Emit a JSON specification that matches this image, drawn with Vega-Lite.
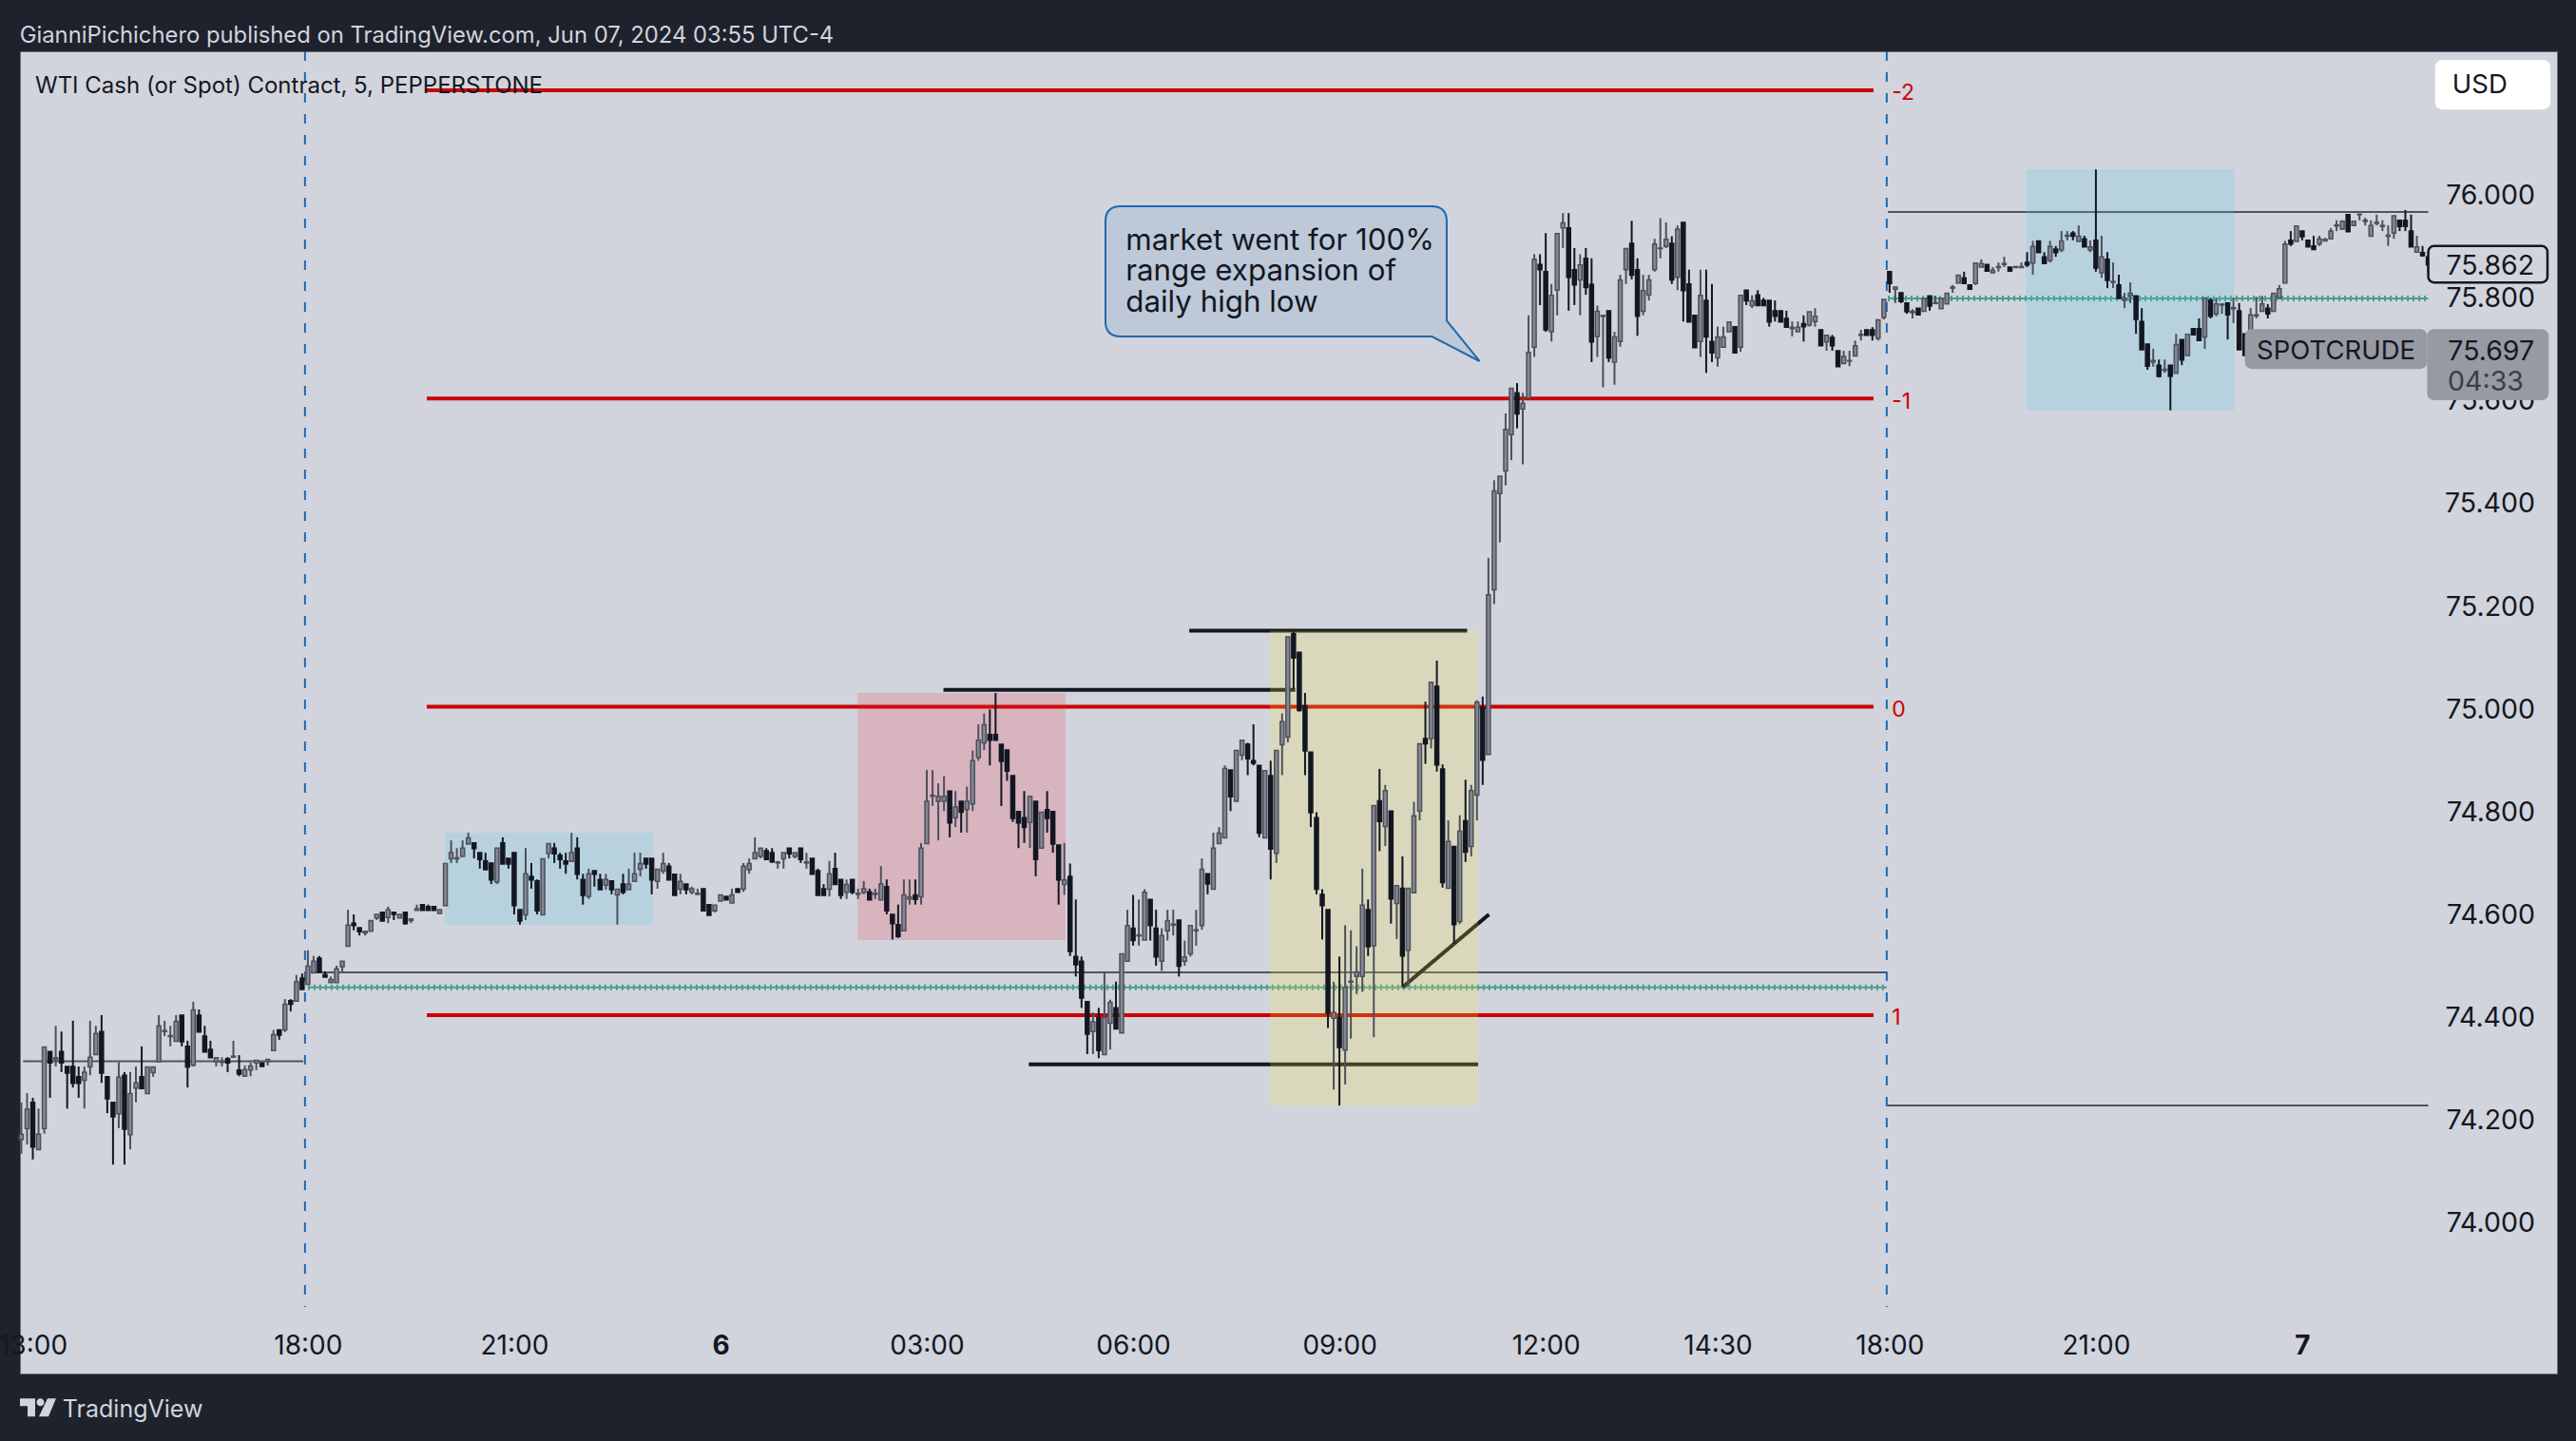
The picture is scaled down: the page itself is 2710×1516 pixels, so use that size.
{
"$schema":"https://vega.github.io/schema/vega-lite/v6.json",
"description":"WTI spot crude 5 minute candles with range levels and session zones",
"autosize":"none",
"width":2669,
"height":1391,
"padding":{"left":21,"top":54,"right":20,"bottom":71},
"background":"#1e222d",
"view":{"fill":"#d1d4dc","stroke":"#6a6d78","strokeWidth":1},
"datasets":{
"lines":[
{"b":49.5,"b2":49.5,"p":76.2759,"p2":73.832,"kind":"session"},
{"b":325.5,"b2":325.5,"p":76.2759,"p2":73.832,"kind":"session"},
{"b":0.3,"b2":49.2,"p":74.31,"p2":74.31,"kind":"grey"},
{"b":50.5,"b2":325.5,"p":74.483,"p2":74.483,"kind":"grey"},
{"b":325.7,"b2":420,"p":75.963,"p2":75.963,"kind":"grey"},
{"b":325.7,"b2":420,"p":74.224,"p2":74.224,"kind":"grey"},
{"b":50,"b2":325.5,"p":74.454,"p2":74.454,"kind":"green"},
{"b":50,"b2":325.5,"p":74.454,"p2":74.454,"kind":"greentick"},
{"b":325.7,"b2":420,"p":75.795,"p2":75.795,"kind":"green"},
{"b":325.7,"b2":420,"p":75.795,"p2":75.795,"kind":"greentick"},
{"b":70.75,"b2":323.2,"p":76.2,"p2":76.2,"kind":"level"},
{"b":70.75,"b2":323.2,"p":75.6,"p2":75.6,"kind":"level"},
{"b":70.75,"b2":323.2,"p":75.0,"p2":75.0,"kind":"level"},
{"b":70.75,"b2":323.2,"p":74.4,"p2":74.4,"kind":"level"},
{"b":160.9,"b2":222.3,"p":75.033,"p2":75.033,"kind":"black"},
{"b":203.8,"b2":252.3,"p":75.148,"p2":75.148,"kind":"black"},
{"b":175.8,"b2":254.2,"p":74.304,"p2":74.304,"kind":"black"},
{"b":241,"b2":256.1,"p":74.454,"p2":74.596,"kind":"black"}
],
"zones":[
{"b":73.9,"b2":110.2,"p":74.755,"p2":74.5756,"kind":"blue"},
{"b":145.9,"b2":182.2,"p":75.027,"p2":74.546,"kind":"red"},
{"b":217.9,"b2":254.2,"p":75.148,"p2":74.224,"kind":"yellow"},
{"b":349.8,"b2":386.1,"p":76.046,"p2":75.577,"kind":"blue"}
],
"boxes":[
{"b":421.4,"b2":441.1,"p":76.257,"p2":76.165,"kind":"usd"},
{"b":420,"b2":440.8,"p":75.897,"p2":75.826,"kind":"last"},
{"b":388.2,"b2":419.6,"p":75.733,"p2":75.66,"kind":"symbol"},
{"b":420,"b2":440.8,"p":75.733,"p2":75.599,"kind":"symbol"}
],
"labelsLeft":[
{"b":-0.29,"p":76.305,"label":"GianniPichichero published on TradingView.com, Jun 07, 2024 03:55 UTC-4","kind":"header"},
{"b":2.41,"p":76.207,"label":"WTI Cash (or Spot) Contract, 5, PEPPERSTONE","kind":"legend"},
{"b":7.2,"p":73.632,"label":"TradingView","kind":"footer"},
{"b":192.7,"p":75.905,"label":"market went for 100%","kind":"note"},
{"b":192.7,"p":75.847,"label":"range expansion of","kind":"note"},
{"b":192.7,"p":75.786,"label":"daily high low","kind":"note"},
{"b":326.4,"p":76.194,"label":"-2","kind":"levelText"},
{"b":326.4,"p":75.594,"label":"-1","kind":"levelText"},
{"b":326.4,"p":74.994,"label":"0","kind":"levelText"},
{"b":326.4,"p":74.394,"label":"1","kind":"levelText"},
{"b":423.4,"p":75.632,"label":"04:33","kind":"timer"}
],
"labelsRight":[
{"b":438.5,"p":75.858,"label":"75.862","kind":"price"},
{"b":438.5,"p":75.692,"label":"75.697","kind":"price"}
],
"labelsCenter":[
{"b":429,"p":76.209,"label":"USD","kind":"price"},
{"b":403.9,"p":75.692,"label":"SPOTCRUDE","kind":"price"}
],
"candles":[
{"b":0,"o":74.158,"h":74.230,"l":74.130,"c":74.168},
{"b":1,"o":74.179,"h":74.248,"l":74.148,"c":74.217},
{"b":2,"o":74.230,"h":74.239,"l":74.119,"c":74.143},
{"b":3,"o":74.138,"h":74.218,"l":74.138,"c":74.168},
{"b":4,"o":74.179,"h":74.338,"l":74.169,"c":74.338},
{"b":5,"o":74.329,"h":74.329,"l":74.239,"c":74.307},
{"b":6,"o":74.314,"h":74.379,"l":74.300,"c":74.317},
{"b":7,"o":74.329,"h":74.368,"l":74.289,"c":74.307},
{"b":8,"o":74.300,"h":74.300,"l":74.218,"c":74.287},
{"b":9,"o":74.300,"h":74.389,"l":74.259,"c":74.267},
{"b":10,"o":74.280,"h":74.300,"l":74.239,"c":74.267},
{"b":11,"o":74.273,"h":74.300,"l":74.218,"c":74.289},
{"b":12,"o":74.299,"h":74.389,"l":74.283,"c":74.318},
{"b":13,"o":74.323,"h":74.379,"l":74.323,"c":74.364},
{"b":14,"o":74.368,"h":74.400,"l":74.268,"c":74.287},
{"b":15,"o":74.280,"h":74.280,"l":74.209,"c":74.237},
{"b":16,"o":74.230,"h":74.230,"l":74.109,"c":74.202},
{"b":17,"o":74.208,"h":74.308,"l":74.180,"c":74.279},
{"b":18,"o":74.283,"h":74.289,"l":74.109,"c":74.178},
{"b":19,"o":74.167,"h":74.289,"l":74.139,"c":74.247},
{"b":20,"o":74.258,"h":74.300,"l":74.230,"c":74.268},
{"b":21,"o":74.280,"h":74.339,"l":74.257,"c":74.257},
{"b":22,"o":74.247,"h":74.299,"l":74.247,"c":74.299},
{"b":23,"o":74.288,"h":74.299,"l":74.280,"c":74.299},
{"b":24,"o":74.309,"h":74.400,"l":74.309,"c":74.379},
{"b":25,"o":74.368,"h":74.389,"l":74.359,"c":74.370},
{"b":26,"o":74.358,"h":74.379,"l":74.339,"c":74.360},
{"b":27,"o":74.349,"h":74.400,"l":74.349,"c":74.388},
{"b":28,"o":74.400,"h":74.400,"l":74.339,"c":74.348},
{"b":29,"o":74.339,"h":74.350,"l":74.259,"c":74.299},
{"b":30,"o":74.302,"h":74.426,"l":74.300,"c":74.410},
{"b":31,"o":74.400,"h":74.411,"l":74.367,"c":74.367},
{"b":32,"o":74.359,"h":74.379,"l":74.328,"c":74.328},
{"b":33,"o":74.333,"h":74.350,"l":74.317,"c":74.317},
{"b":34,"o":74.309,"h":74.317,"l":74.300,"c":74.317},
{"b":35,"o":74.308,"h":74.318,"l":74.300,"c":74.310},
{"b":36,"o":74.315,"h":74.318,"l":74.289,"c":74.307},
{"b":37,"o":74.318,"h":74.350,"l":74.317,"c":74.320},
{"b":38,"o":74.293,"h":74.322,"l":74.281,"c":74.285},
{"b":39,"o":74.281,"h":74.302,"l":74.281,"c":74.294},
{"b":40,"o":74.293,"h":74.308,"l":74.281,"c":74.301},
{"b":41,"o":74.307,"h":74.312,"l":74.293,"c":74.312},
{"b":42,"o":74.307,"h":74.307,"l":74.300,"c":74.300},
{"b":43,"o":74.310,"h":74.314,"l":74.302,"c":74.314},
{"b":44,"o":74.331,"h":74.371,"l":74.331,"c":74.362},
{"b":45,"o":74.371,"h":74.371,"l":74.352,"c":74.361},
{"b":46,"o":74.371,"h":74.431,"l":74.367,"c":74.421},
{"b":47,"o":74.428,"h":74.431,"l":74.407,"c":74.421},
{"b":48,"o":74.427,"h":74.478,"l":74.427,"c":74.465},
{"b":49,"o":74.472,"h":74.481,"l":74.450,"c":74.450},
{"b":50,"o":74.460,"h":74.526,"l":74.460,"c":74.495},
{"b":51,"o":74.482,"h":74.515,"l":74.482,"c":74.505},
{"b":52,"o":74.511,"h":74.515,"l":74.483,"c":74.483},
{"b":53,"o":74.479,"h":74.485,"l":74.474,"c":74.474},
{"b":54,"o":74.463,"h":74.475,"l":74.463,"c":74.469},
{"b":55,"o":74.463,"h":74.496,"l":74.463,"c":74.490},
{"b":56,"o":74.494,"h":74.505,"l":74.485,"c":74.505},
{"b":57,"o":74.534,"h":74.605,"l":74.534,"c":74.575},
{"b":58,"o":74.579,"h":74.596,"l":74.565,"c":74.574},
{"b":59,"o":74.570,"h":74.570,"l":74.555,"c":74.562},
{"b":60,"o":74.560,"h":74.563,"l":74.555,"c":74.563},
{"b":61,"o":74.563,"h":74.584,"l":74.563,"c":74.584},
{"b":62,"o":74.589,"h":74.596,"l":74.585,"c":74.596},
{"b":63,"o":74.600,"h":74.600,"l":74.583,"c":74.583},
{"b":64,"o":74.590,"h":74.611,"l":74.579,"c":74.605},
{"b":65,"o":74.600,"h":74.600,"l":74.585,"c":74.596},
{"b":66,"o":74.589,"h":74.596,"l":74.589,"c":74.596},
{"b":67,"o":74.600,"h":74.600,"l":74.576,"c":74.578},
{"b":68,"o":74.584,"h":74.587,"l":74.579,"c":74.587},
{"b":69,"o":74.604,"h":74.615,"l":74.604,"c":74.607},
{"b":70,"o":74.615,"h":74.615,"l":74.604,"c":74.604},
{"b":71,"o":74.611,"h":74.615,"l":74.604,"c":74.604},
{"b":72,"o":74.611,"h":74.611,"l":74.604,"c":74.604},
{"b":73,"o":74.598,"h":74.605,"l":74.598,"c":74.605},
{"b":74,"o":74.613,"h":74.695,"l":74.613,"c":74.695},
{"b":75,"o":74.704,"h":74.740,"l":74.696,"c":74.716},
{"b":76,"o":74.704,"h":74.725,"l":74.696,"c":74.706},
{"b":77,"o":74.709,"h":74.740,"l":74.709,"c":74.725},
{"b":78,"o":74.733,"h":74.755,"l":74.733,"c":74.745},
{"b":79,"o":74.735,"h":74.735,"l":74.705,"c":74.724},
{"b":80,"o":74.716,"h":74.716,"l":74.685,"c":74.703},
{"b":81,"o":74.700,"h":74.716,"l":74.683,"c":74.683},
{"b":82,"o":74.696,"h":74.696,"l":74.655,"c":74.663},
{"b":83,"o":74.659,"h":74.725,"l":74.655,"c":74.725},
{"b":84,"o":74.735,"h":74.746,"l":74.694,"c":74.694},
{"b":85,"o":74.705,"h":74.705,"l":74.685,"c":74.694},
{"b":86,"o":74.716,"h":74.716,"l":74.596,"c":74.613},
{"b":87,"o":74.605,"h":74.605,"l":74.576,"c":74.583},
{"b":88,"o":74.595,"h":74.725,"l":74.585,"c":74.675},
{"b":89,"o":74.670,"h":74.696,"l":74.646,"c":74.663},
{"b":90,"o":74.661,"h":74.664,"l":74.596,"c":74.603},
{"b":91,"o":74.595,"h":74.704,"l":74.595,"c":74.704},
{"b":92,"o":74.715,"h":74.734,"l":74.705,"c":74.734},
{"b":93,"o":74.725,"h":74.735,"l":74.696,"c":74.714},
{"b":94,"o":74.711,"h":74.716,"l":74.685,"c":74.703},
{"b":95,"o":74.700,"h":74.716,"l":74.675,"c":74.694},
{"b":96,"o":74.699,"h":74.755,"l":74.699,"c":74.716},
{"b":97,"o":74.725,"h":74.746,"l":74.664,"c":74.674},
{"b":98,"o":74.664,"h":74.675,"l":74.615,"c":74.633},
{"b":99,"o":74.631,"h":74.685,"l":74.626,"c":74.675},
{"b":100,"o":74.681,"h":74.681,"l":74.650,"c":74.674},
{"b":101,"o":74.664,"h":74.675,"l":74.644,"c":74.644},
{"b":102,"o":74.653,"h":74.675,"l":74.644,"c":74.664},
{"b":103,"o":74.661,"h":74.661,"l":74.635,"c":74.644},
{"b":104,"o":74.634,"h":74.645,"l":74.576,"c":74.645},
{"b":105,"o":74.655,"h":74.675,"l":74.635,"c":74.639},
{"b":106,"o":74.644,"h":74.685,"l":74.644,"c":74.655},
{"b":107,"o":74.660,"h":74.716,"l":74.660,"c":74.675},
{"b":108,"o":74.684,"h":74.716,"l":74.670,"c":74.695},
{"b":109,"o":74.705,"h":74.705,"l":74.685,"c":74.694},
{"b":110,"o":74.705,"h":74.705,"l":74.635,"c":74.663},
{"b":111,"o":74.660,"h":74.684,"l":74.646,"c":74.684},
{"b":112,"o":74.680,"h":74.716,"l":74.675,"c":74.695},
{"b":113,"o":74.690,"h":74.696,"l":74.663,"c":74.663},
{"b":114,"o":74.674,"h":74.674,"l":74.633,"c":74.633},
{"b":115,"o":74.645,"h":74.675,"l":74.635,"c":74.660},
{"b":116,"o":74.655,"h":74.655,"l":74.635,"c":74.644},
{"b":117,"o":74.639,"h":74.650,"l":74.635,"c":74.646},
{"b":118,"o":74.635,"h":74.646,"l":74.633,"c":74.637},
{"b":119,"o":74.646,"h":74.646,"l":74.603,"c":74.603},
{"b":120,"o":74.615,"h":74.615,"l":74.594,"c":74.594},
{"b":121,"o":74.603,"h":74.614,"l":74.600,"c":74.614},
{"b":122,"o":74.622,"h":74.634,"l":74.622,"c":74.634},
{"b":123,"o":74.631,"h":74.631,"l":74.624,"c":74.624},
{"b":124,"o":74.618,"h":74.646,"l":74.618,"c":74.634},
{"b":125,"o":74.646,"h":74.646,"l":74.639,"c":74.639},
{"b":126,"o":74.645,"h":74.696,"l":74.640,"c":74.690},
{"b":127,"o":74.683,"h":74.705,"l":74.675,"c":74.695},
{"b":128,"o":74.704,"h":74.746,"l":74.704,"c":74.716},
{"b":129,"o":74.709,"h":74.725,"l":74.705,"c":74.725},
{"b":130,"o":74.720,"h":74.725,"l":74.703,"c":74.703},
{"b":131,"o":74.716,"h":74.725,"l":74.696,"c":74.698},
{"b":132,"o":74.696,"h":74.700,"l":74.685,"c":74.698},
{"b":133,"o":74.704,"h":74.716,"l":74.685,"c":74.716},
{"b":134,"o":74.725,"h":74.725,"l":74.705,"c":74.714},
{"b":135,"o":74.709,"h":74.716,"l":74.705,"c":74.716},
{"b":136,"o":74.725,"h":74.725,"l":74.696,"c":74.703},
{"b":137,"o":74.696,"h":74.716,"l":74.685,"c":74.698},
{"b":138,"o":74.705,"h":74.705,"l":74.674,"c":74.674},
{"b":139,"o":74.681,"h":74.685,"l":74.633,"c":74.633},
{"b":140,"o":74.646,"h":74.655,"l":74.633,"c":74.633},
{"b":141,"o":74.645,"h":74.700,"l":74.631,"c":74.675},
{"b":142,"o":74.685,"h":74.716,"l":74.654,"c":74.654},
{"b":143,"o":74.664,"h":74.664,"l":74.626,"c":74.633},
{"b":144,"o":74.639,"h":74.664,"l":74.626,"c":74.654},
{"b":145,"o":74.664,"h":74.664,"l":74.635,"c":74.639},
{"b":146,"o":74.635,"h":74.646,"l":74.626,"c":74.637},
{"b":147,"o":74.639,"h":74.661,"l":74.635,"c":74.646},
{"b":148,"o":74.640,"h":74.646,"l":74.624,"c":74.624},
{"b":149,"o":74.635,"h":74.646,"l":74.626,"c":74.637},
{"b":150,"o":74.624,"h":74.690,"l":74.624,"c":74.655},
{"b":151,"o":74.650,"h":74.664,"l":74.596,"c":74.603},
{"b":152,"o":74.596,"h":74.596,"l":74.547,"c":74.578},
{"b":153,"o":74.576,"h":74.615,"l":74.550,"c":74.553},
{"b":154,"o":74.564,"h":74.664,"l":74.564,"c":74.634},
{"b":155,"o":74.626,"h":74.664,"l":74.615,"c":74.630},
{"b":156,"o":74.634,"h":74.664,"l":74.615,"c":74.625},
{"b":157,"o":74.630,"h":74.735,"l":74.615,"c":74.725},
{"b":158,"o":74.734,"h":74.877,"l":74.734,"c":74.816},
{"b":159,"o":74.826,"h":74.877,"l":74.807,"c":74.828},
{"b":160,"o":74.816,"h":74.851,"l":74.740,"c":74.826},
{"b":161,"o":74.816,"h":74.865,"l":74.797,"c":74.826},
{"b":162,"o":74.836,"h":74.836,"l":74.746,"c":74.774},
{"b":163,"o":74.784,"h":74.836,"l":74.766,"c":74.805},
{"b":164,"o":74.816,"h":74.816,"l":74.755,"c":74.795},
{"b":165,"o":74.800,"h":74.845,"l":74.755,"c":74.816},
{"b":166,"o":74.811,"h":74.915,"l":74.797,"c":74.895},
{"b":167,"o":74.901,"h":74.966,"l":74.895,"c":74.935},
{"b":168,"o":74.930,"h":74.987,"l":74.916,"c":74.965},
{"b":169,"o":74.946,"h":74.995,"l":74.886,"c":74.935},
{"b":170,"o":74.946,"h":75.027,"l":74.935,"c":74.935},
{"b":171,"o":74.927,"h":74.927,"l":74.807,"c":74.894},
{"b":172,"o":74.916,"h":74.916,"l":74.856,"c":74.875},
{"b":173,"o":74.866,"h":74.866,"l":74.776,"c":74.783},
{"b":174,"o":74.796,"h":74.796,"l":74.725,"c":74.774},
{"b":175,"o":74.784,"h":74.836,"l":74.735,"c":74.765},
{"b":176,"o":74.775,"h":74.826,"l":74.725,"c":74.826},
{"b":177,"o":74.816,"h":74.816,"l":74.670,"c":74.703},
{"b":178,"o":74.725,"h":74.795,"l":74.725,"c":74.795},
{"b":179,"o":74.800,"h":74.836,"l":74.755,"c":74.783},
{"b":180,"o":74.796,"h":74.796,"l":74.716,"c":74.733},
{"b":181,"o":74.731,"h":74.731,"l":74.615,"c":74.663},
{"b":182,"o":74.654,"h":74.735,"l":74.634,"c":74.663},
{"b":183,"o":74.670,"h":74.695,"l":74.515,"c":74.524},
{"b":184,"o":74.514,"h":74.625,"l":74.475,"c":74.498},
{"b":185,"o":74.505,"h":74.514,"l":74.414,"c":74.433},
{"b":186,"o":74.426,"h":74.426,"l":74.324,"c":74.363},
{"b":187,"o":74.368,"h":74.405,"l":74.324,"c":74.387},
{"b":188,"o":74.395,"h":74.414,"l":74.316,"c":74.331},
{"b":189,"o":74.323,"h":74.484,"l":74.323,"c":74.395},
{"b":190,"o":74.384,"h":74.430,"l":74.333,"c":74.425},
{"b":191,"o":74.414,"h":74.465,"l":74.373,"c":74.373},
{"b":192,"o":74.365,"h":74.519,"l":74.365,"c":74.519},
{"b":193,"o":74.505,"h":74.605,"l":74.505,"c":74.574},
{"b":194,"o":74.569,"h":74.634,"l":74.535,"c":74.545},
{"b":195,"o":74.554,"h":74.625,"l":74.535,"c":74.556},
{"b":196,"o":74.546,"h":74.645,"l":74.546,"c":74.639},
{"b":197,"o":74.625,"h":74.625,"l":74.545,"c":74.574},
{"b":198,"o":74.569,"h":74.605,"l":74.496,"c":74.513},
{"b":199,"o":74.505,"h":74.569,"l":74.486,"c":74.555},
{"b":200,"o":74.564,"h":74.605,"l":74.545,"c":74.584},
{"b":201,"o":74.575,"h":74.605,"l":74.555,"c":74.577},
{"b":202,"o":74.585,"h":74.585,"l":74.475,"c":74.495},
{"b":203,"o":74.505,"h":74.545,"l":74.496,"c":74.513},
{"b":204,"o":74.519,"h":74.574,"l":74.514,"c":74.574},
{"b":205,"o":74.564,"h":74.605,"l":74.535,"c":74.566},
{"b":206,"o":74.574,"h":74.705,"l":74.566,"c":74.684},
{"b":207,"o":74.675,"h":74.675,"l":74.635,"c":74.655},
{"b":208,"o":74.645,"h":74.755,"l":74.645,"c":74.725},
{"b":209,"o":74.734,"h":74.766,"l":74.734,"c":74.754},
{"b":210,"o":74.745,"h":74.886,"l":74.745,"c":74.880},
{"b":211,"o":74.877,"h":74.877,"l":74.797,"c":74.825},
{"b":212,"o":74.816,"h":74.915,"l":74.816,"c":74.915},
{"b":213,"o":74.906,"h":74.935,"l":74.896,"c":74.935},
{"b":214,"o":74.927,"h":74.930,"l":74.867,"c":74.899},
{"b":215,"o":74.895,"h":74.966,"l":74.886,"c":74.890},
{"b":216,"o":74.886,"h":74.886,"l":74.746,"c":74.754},
{"b":217,"o":74.745,"h":74.876,"l":74.745,"c":74.876},
{"b":218,"o":74.866,"h":74.895,"l":74.664,"c":74.723},
{"b":219,"o":74.715,"h":74.915,"l":74.696,"c":74.915},
{"b":220,"o":74.926,"h":74.987,"l":74.867,"c":74.971},
{"b":221,"o":74.941,"h":75.136,"l":74.931,"c":75.136},
{"b":222,"o":75.142,"h":75.147,"l":75.035,"c":75.095},
{"b":223,"o":75.106,"h":75.106,"l":74.991,"c":74.993},
{"b":224,"o":75.002,"h":75.027,"l":74.867,"c":74.914},
{"b":225,"o":74.912,"h":74.912,"l":74.766,"c":74.794},
{"b":226,"o":74.784,"h":74.795,"l":74.635,"c":74.645},
{"b":227,"o":74.635,"h":74.645,"l":74.547,"c":74.613},
{"b":228,"o":74.605,"h":74.605,"l":74.375,"c":74.404},
{"b":229,"o":74.394,"h":74.465,"l":74.255,"c":74.405},
{"b":230,"o":74.395,"h":74.514,"l":74.224,"c":74.337},
{"b":231,"o":74.332,"h":74.575,"l":74.265,"c":74.454},
{"b":232,"o":74.464,"h":74.565,"l":74.354,"c":74.466},
{"b":233,"o":74.475,"h":74.534,"l":74.441,"c":74.484},
{"b":234,"o":74.475,"h":74.685,"l":74.445,"c":74.614},
{"b":235,"o":74.605,"h":74.625,"l":74.515,"c":74.533},
{"b":236,"o":74.535,"h":74.808,"l":74.357,"c":74.808},
{"b":237,"o":74.817,"h":74.879,"l":74.719,"c":74.777},
{"b":238,"o":74.767,"h":74.848,"l":74.729,"c":74.837},
{"b":239,"o":74.797,"h":74.797,"l":74.578,"c":74.626},
{"b":240,"o":74.617,"h":74.652,"l":74.548,"c":74.652},
{"b":241,"o":74.647,"h":74.709,"l":74.456,"c":74.515},
{"b":242,"o":74.526,"h":74.647,"l":74.456,"c":74.647},
{"b":243,"o":74.638,"h":74.815,"l":74.638,"c":74.788},
{"b":244,"o":74.797,"h":74.928,"l":74.779,"c":74.928},
{"b":245,"o":74.938,"h":75.010,"l":74.889,"c":74.928},
{"b":246,"o":74.938,"h":75.048,"l":74.919,"c":75.048},
{"b":247,"o":75.040,"h":75.090,"l":74.874,"c":74.887},
{"b":248,"o":74.879,"h":74.888,"l":74.648,"c":74.658},
{"b":249,"o":74.647,"h":74.779,"l":74.647,"c":74.738},
{"b":250,"o":74.728,"h":74.728,"l":74.539,"c":74.576},
{"b":251,"o":74.582,"h":74.789,"l":74.577,"c":74.758},
{"b":252,"o":74.778,"h":74.858,"l":74.698,"c":74.717},
{"b":253,"o":74.728,"h":74.848,"l":74.709,"c":74.837},
{"b":254,"o":74.828,"h":75.013,"l":74.779,"c":75.009},
{"b":255,"o":74.999,"h":75.020,"l":74.848,"c":74.896},
{"b":256,"o":74.907,"h":75.290,"l":74.907,"c":75.218},
{"b":257,"o":75.228,"h":75.441,"l":75.200,"c":75.420},
{"b":258,"o":75.415,"h":75.449,"l":75.320,"c":75.449},
{"b":259,"o":75.459,"h":75.571,"l":75.431,"c":75.540},
{"b":260,"o":75.530,"h":75.620,"l":75.480,"c":75.620},
{"b":261,"o":75.611,"h":75.630,"l":75.542,"c":75.570},
{"b":262,"o":75.580,"h":75.611,"l":75.472,"c":75.591},
{"b":263,"o":75.601,"h":75.762,"l":75.601,"c":75.690},
{"b":264,"o":75.700,"h":75.881,"l":75.681,"c":75.871},
{"b":265,"o":75.861,"h":75.881,"l":75.782,"c":75.851},
{"b":266,"o":75.847,"h":75.922,"l":75.730,"c":75.734},
{"b":267,"o":75.730,"h":75.823,"l":75.711,"c":75.801},
{"b":268,"o":75.811,"h":75.921,"l":75.762,"c":75.921},
{"b":269,"o":75.932,"h":75.961,"l":75.893,"c":75.942},
{"b":270,"o":75.932,"h":75.961,"l":75.771,"c":75.836},
{"b":271,"o":75.851,"h":75.893,"l":75.782,"c":75.821},
{"b":272,"o":75.831,"h":75.881,"l":75.762,"c":75.860},
{"b":273,"o":75.873,"h":75.893,"l":75.802,"c":75.816},
{"b":274,"o":75.822,"h":75.873,"l":75.671,"c":75.710},
{"b":275,"o":75.721,"h":75.781,"l":75.681,"c":75.770},
{"b":276,"o":75.760,"h":75.762,"l":75.622,"c":75.762},
{"b":277,"o":75.771,"h":75.771,"l":75.671,"c":75.679},
{"b":278,"o":75.671,"h":75.730,"l":75.627,"c":75.720},
{"b":279,"o":75.711,"h":75.841,"l":75.701,"c":75.831},
{"b":280,"o":75.851,"h":75.892,"l":75.823,"c":75.892},
{"b":281,"o":75.902,"h":75.946,"l":75.832,"c":75.840},
{"b":282,"o":75.851,"h":75.873,"l":75.722,"c":75.760},
{"b":283,"o":75.770,"h":75.841,"l":75.762,"c":75.810},
{"b":284,"o":75.802,"h":75.841,"l":75.791,"c":75.831},
{"b":285,"o":75.851,"h":75.911,"l":75.847,"c":75.901},
{"b":286,"o":75.892,"h":75.951,"l":75.873,"c":75.893},
{"b":287,"o":75.896,"h":75.943,"l":75.893,"c":75.910},
{"b":288,"o":75.902,"h":75.916,"l":75.823,"c":75.831},
{"b":289,"o":75.836,"h":75.937,"l":75.811,"c":75.930},
{"b":290,"o":75.943,"h":75.943,"l":75.750,"c":75.810},
{"b":291,"o":75.823,"h":75.851,"l":75.749,"c":75.749},
{"b":292,"o":75.762,"h":75.762,"l":75.699,"c":75.699},
{"b":293,"o":75.711,"h":75.851,"l":75.681,"c":75.801},
{"b":294,"o":75.791,"h":75.851,"l":75.650,"c":75.720},
{"b":295,"o":75.711,"h":75.823,"l":75.671,"c":75.689},
{"b":296,"o":75.679,"h":75.740,"l":75.662,"c":75.720},
{"b":297,"o":75.700,"h":75.740,"l":75.700,"c":75.720},
{"b":298,"o":75.730,"h":75.749,"l":75.730,"c":75.749},
{"b":299,"o":75.740,"h":75.740,"l":75.689,"c":75.689},
{"b":300,"o":75.700,"h":75.801,"l":75.691,"c":75.801},
{"b":301,"o":75.811,"h":75.811,"l":75.782,"c":75.790},
{"b":302,"o":75.781,"h":75.801,"l":75.776,"c":75.790},
{"b":303,"o":75.802,"h":75.811,"l":75.781,"c":75.781},
{"b":304,"o":75.791,"h":75.796,"l":75.781,"c":75.781},
{"b":305,"o":75.791,"h":75.791,"l":75.740,"c":75.749},
{"b":306,"o":75.771,"h":75.791,"l":75.750,"c":75.760},
{"b":307,"o":75.771,"h":75.771,"l":75.749,"c":75.749},
{"b":308,"o":75.756,"h":75.771,"l":75.739,"c":75.739},
{"b":309,"o":75.736,"h":75.750,"l":75.721,"c":75.739},
{"b":310,"o":75.730,"h":75.750,"l":75.730,"c":75.739},
{"b":311,"o":75.746,"h":75.762,"l":75.711,"c":75.740},
{"b":312,"o":75.743,"h":75.769,"l":75.740,"c":75.769},
{"b":313,"o":75.750,"h":75.776,"l":75.740,"c":75.760},
{"b":314,"o":75.734,"h":75.734,"l":75.703,"c":75.703},
{"b":315,"o":75.710,"h":75.723,"l":75.693,"c":75.723},
{"b":316,"o":75.719,"h":75.724,"l":75.693,"c":75.703},
{"b":317,"o":75.693,"h":75.693,"l":75.662,"c":75.662},
{"b":318,"o":75.668,"h":75.693,"l":75.668,"c":75.682},
{"b":319,"o":75.673,"h":75.693,"l":75.663,"c":75.674},
{"b":320,"o":75.683,"h":75.713,"l":75.683,"c":75.703},
{"b":321,"o":75.723,"h":75.734,"l":75.713,"c":75.725},
{"b":322,"o":75.734,"h":75.734,"l":75.723,"c":75.723},
{"b":323,"o":75.734,"h":75.739,"l":75.713,"c":75.723},
{"b":324,"o":75.717,"h":75.753,"l":75.713,"c":75.753},
{"b":325,"o":75.758,"h":75.793,"l":75.754,"c":75.793},
{"b":326,"o":75.847,"h":75.847,"l":75.806,"c":75.824},
{"b":327,"o":75.813,"h":75.817,"l":75.786,"c":75.817},
{"b":328,"o":75.806,"h":75.806,"l":75.786,"c":75.789},
{"b":329,"o":75.786,"h":75.786,"l":75.765,"c":75.769},
{"b":330,"o":75.767,"h":75.774,"l":75.756,"c":75.770},
{"b":331,"o":75.776,"h":75.776,"l":75.763,"c":75.763},
{"b":332,"o":75.770,"h":75.795,"l":75.770,"c":75.795},
{"b":333,"o":75.800,"h":75.800,"l":75.771,"c":75.780},
{"b":334,"o":75.785,"h":75.800,"l":75.785,"c":75.787},
{"b":335,"o":75.775,"h":75.795,"l":75.775,"c":75.795},
{"b":336,"o":75.784,"h":75.805,"l":75.784,"c":75.805},
{"b":337,"o":75.815,"h":75.821,"l":75.806,"c":75.817},
{"b":338,"o":75.825,"h":75.840,"l":75.825,"c":75.840},
{"b":339,"o":75.835,"h":75.847,"l":75.824,"c":75.824},
{"b":340,"o":75.821,"h":75.821,"l":75.813,"c":75.813},
{"b":341,"o":75.824,"h":75.864,"l":75.821,"c":75.864},
{"b":342,"o":75.856,"h":75.871,"l":75.856,"c":75.863},
{"b":343,"o":75.861,"h":75.861,"l":75.847,"c":75.848},
{"b":344,"o":75.845,"h":75.856,"l":75.845,"c":75.850},
{"b":345,"o":75.855,"h":75.865,"l":75.847,"c":75.857},
{"b":346,"o":75.861,"h":75.876,"l":75.856,"c":75.863},
{"b":347,"o":75.856,"h":75.856,"l":75.848,"c":75.848},
{"b":348,"o":75.855,"h":75.857,"l":75.855,"c":75.857},
{"b":349,"o":75.855,"h":75.865,"l":75.855,"c":75.857},
{"b":350,"o":75.865,"h":75.885,"l":75.856,"c":75.860},
{"b":351,"o":75.864,"h":75.907,"l":75.841,"c":75.896},
{"b":352,"o":75.907,"h":75.907,"l":75.884,"c":75.884},
{"b":353,"o":75.876,"h":75.885,"l":75.863,"c":75.863},
{"b":354,"o":75.869,"h":75.907,"l":75.865,"c":75.896},
{"b":355,"o":75.891,"h":75.897,"l":75.876,"c":75.884},
{"b":356,"o":75.889,"h":75.926,"l":75.885,"c":75.907},
{"b":357,"o":75.916,"h":75.926,"l":75.908,"c":75.918},
{"b":358,"o":75.922,"h":75.926,"l":75.908,"c":75.916},
{"b":359,"o":75.906,"h":75.937,"l":75.906,"c":75.916},
{"b":360,"o":75.911,"h":75.917,"l":75.895,"c":75.895},
{"b":361,"o":75.889,"h":75.908,"l":75.885,"c":75.895},
{"b":362,"o":75.908,"h":76.046,"l":75.847,"c":75.854},
{"b":363,"o":75.845,"h":75.917,"l":75.835,"c":75.876},
{"b":364,"o":75.871,"h":75.885,"l":75.815,"c":75.830},
{"b":365,"o":75.826,"h":75.865,"l":75.815,"c":75.828},
{"b":366,"o":75.821,"h":75.841,"l":75.795,"c":75.795},
{"b":367,"o":75.791,"h":75.806,"l":75.776,"c":75.795},
{"b":368,"o":75.800,"h":75.826,"l":75.786,"c":75.805},
{"b":369,"o":75.800,"h":75.800,"l":75.726,"c":75.754},
{"b":370,"o":75.750,"h":75.776,"l":75.695,"c":75.695},
{"b":371,"o":75.706,"h":75.706,"l":75.656,"c":75.663},
{"b":372,"o":75.671,"h":75.697,"l":75.662,"c":75.674},
{"b":373,"o":75.665,"h":75.676,"l":75.641,"c":75.643},
{"b":374,"o":75.655,"h":75.676,"l":75.650,"c":75.657},
{"b":375,"o":75.665,"h":75.665,"l":75.577,"c":75.643},
{"b":376,"o":75.649,"h":75.726,"l":75.649,"c":75.705},
{"b":377,"o":75.715,"h":75.715,"l":75.665,"c":75.675},
{"b":378,"o":75.684,"h":75.725,"l":75.684,"c":75.725},
{"b":379,"o":75.736,"h":75.736,"l":75.724,"c":75.724},
{"b":380,"o":75.736,"h":75.756,"l":75.713,"c":75.713},
{"b":381,"o":75.720,"h":75.796,"l":75.697,"c":75.796},
{"b":382,"o":75.791,"h":75.795,"l":75.756,"c":75.760},
{"b":383,"o":75.765,"h":75.795,"l":75.760,"c":75.784},
{"b":384,"o":75.782,"h":75.784,"l":75.765,"c":75.784},
{"b":385,"o":75.786,"h":75.786,"l":75.715,"c":75.763},
{"b":386,"o":75.775,"h":75.796,"l":75.747,"c":75.777},
{"b":387,"o":75.771,"h":75.786,"l":75.695,"c":75.695},
{"b":388,"o":75.726,"h":75.726,"l":75.684,"c":75.684},
{"b":389,"o":75.685,"h":75.776,"l":75.685,"c":75.763},
{"b":390,"o":75.761,"h":75.798,"l":75.756,"c":75.763},
{"b":391,"o":75.770,"h":75.800,"l":75.769,"c":75.784},
{"b":392,"o":75.776,"h":75.784,"l":75.756,"c":75.765},
{"b":393,"o":75.770,"h":75.805,"l":75.770,"c":75.805},
{"b":394,"o":75.796,"h":75.821,"l":75.796,"c":75.814},
{"b":395,"o":75.825,"h":75.907,"l":75.825,"c":75.901},
{"b":396,"o":75.908,"h":75.926,"l":75.897,"c":75.901},
{"b":397,"o":75.906,"h":75.936,"l":75.906,"c":75.936},
{"b":398,"o":75.926,"h":75.926,"l":75.908,"c":75.915},
{"b":399,"o":75.908,"h":75.908,"l":75.895,"c":75.895},
{"b":400,"o":75.897,"h":75.917,"l":75.890,"c":75.890},
{"b":401,"o":75.901,"h":75.917,"l":75.897,"c":75.911},
{"b":402,"o":75.907,"h":75.913,"l":75.907,"c":75.910},
{"b":403,"o":75.911,"h":75.932,"l":75.911,"c":75.926},
{"b":404,"o":75.936,"h":75.947,"l":75.926,"c":75.938},
{"b":405,"o":75.930,"h":75.947,"l":75.928,"c":75.945},
{"b":406,"o":75.958,"h":75.958,"l":75.925,"c":75.925},
{"b":407,"o":75.937,"h":75.945,"l":75.937,"c":75.945},
{"b":408,"o":75.958,"h":75.959,"l":75.947,"c":75.959},
{"b":409,"o":75.945,"h":75.952,"l":75.937,"c":75.947},
{"b":410,"o":75.916,"h":75.947,"l":75.916,"c":75.937},
{"b":411,"o":75.941,"h":75.958,"l":75.937,"c":75.943},
{"b":412,"o":75.935,"h":75.947,"l":75.926,"c":75.937},
{"b":413,"o":75.916,"h":75.937,"l":75.897,"c":75.918},
{"b":414,"o":75.922,"h":75.956,"l":75.911,"c":75.956},
{"b":415,"o":75.947,"h":75.947,"l":75.926,"c":75.935},
{"b":416,"o":75.947,"h":75.967,"l":75.926,"c":75.935},
{"b":417,"o":75.926,"h":75.958,"l":75.895,"c":75.895},
{"b":418,"o":75.885,"h":75.917,"l":75.885,"c":75.895},
{"b":419,"o":75.884,"h":75.897,"l":75.876,"c":75.878},
{"b":420,"o":75.876,"h":75.876,"l":75.847,"c":75.860}
]
},
"encoding":{
"x":{"field":"b","type":"quantitative","title":null,
"scale":{"domain":[-0.24,442.46],"nice":false,"zero":false,"padding":0},
"axis":{"values":[2,50,86,122,158,194,230,266,296,326,362,398],
"labelExpr":"{'2':'13:00','50':'18:00','86':'21:00','122':'6','158':'03:00','194':'06:00','230':'09:00','266':'12:00','296':'14:30','326':'18:00','362':'21:00','398':'7'}[datum.value]",
"grid":false,"domain":false,"ticks":false,"title":null,"labelFont":"Inter","labelFontSize":28,"labelColor":"#131722","labelPadding":-29,"labelBaseline":"middle","labelOverlap":false,"labelBound":false,"labelFlush":false,
"labelFontWeight":{"condition":{"test":"datum.value==122||datum.value==398","value":"bold"},"value":"normal"}}},
"y":{"field":"p","type":"quantitative","title":null,
"scale":{"domain":[73.7023,76.2759],"nice":false,"zero":false},
"axis":{"orient":"right","values":[74,74.2,74.4,74.6,74.8,75,75.2,75.4,75.6,75.8,76],"format":".3f",
"grid":false,"domain":false,"ticks":false,"title":null,"labelFont":"Inter","labelFontSize":28.5,"labelColor":"#131722","labelAlign":"right","labelPadding":-23.5,"labelOffset":2.5,"labelOverlap":false,"labelBound":false}}
},
"resolve":{"scale":{"color":"independent","fill":"independent","stroke":"independent","size":"independent","strokeWidth":"independent","strokeDash":"independent"}},
"layer":[
{"data":{"name":"lines"},
"mark":{"type":"rule"},
"encoding":{
"x2":{"field":"b2"},"y2":{"field":"p2"},
"color":{"field":"kind","legend":null,"scale":{"domain":["session","grey","green","greentick","level","black"],"range":["#2068ae","#50535e","#4a9e8c","#4a9e8c","#cc0000","#131722"]}},
"strokeWidth":{"field":"kind","legend":null,"scale":{"type":"ordinal","domain":["session","grey","green","greentick","level","black"],"range":[2,2,2,6,4,4]}},
"strokeDash":{"field":"kind","legend":null,"scale":{"domain":["session","grey","green","greentick","level","black"],"range":[[10,12],[1,0],[1,0],[2,4],[1,0],[1,0]]}}
}},
{"data":{"name":"zones"},
"mark":{"type":"rect","opacity":0.2},
"encoding":{
"x2":{"field":"b2"},"y2":{"field":"p2"},
"color":{"field":"kind","legend":null,"scale":{"domain":["blue","red","yellow"],"range":["#50cde6","#f23645","#ffeb3b"]}}
}},
{"data":{"name":"candles"},
"mark":{"type":"rule","strokeWidth":2},
"encoding":{
"y":{"field":"h","type":"quantitative","title":null,"scale":{"domain":[73.7023,76.2759],"nice":false,"zero":false},
"axis":{"orient":"right","values":[74,74.2,74.4,74.6,74.8,75,75.2,75.4,75.6,75.8,76],"format":".3f",
"grid":false,"domain":false,"ticks":false,"title":null,"labelFont":"Inter","labelFontSize":28.5,"labelColor":"#131722","labelAlign":"right","labelPadding":-23.5,"labelOffset":2.5,"labelOverlap":false,"labelBound":false}},
"y2":{"field":"l"},
"color":{"condition":{"test":"datum.c>=datum.o","value":"#4d505c"},"value":"#131722"}
}},
{"data":{"name":"candles"},
"mark":{"type":"bar","size":4,"strokeWidth":1.5},
"encoding":{
"y":{"field":"o","type":"quantitative","title":null,"scale":{"domain":[73.7023,76.2759],"nice":false,"zero":false},
"axis":{"orient":"right","values":[74,74.2,74.4,74.6,74.8,75,75.2,75.4,75.6,75.8,76],"format":".3f",
"grid":false,"domain":false,"ticks":false,"title":null,"labelFont":"Inter","labelFontSize":28.5,"labelColor":"#131722","labelAlign":"right","labelPadding":-23.5,"labelOffset":2.5,"labelOverlap":false,"labelBound":false}},
"y2":{"field":"c"},
"fill":{"condition":{"test":"datum.c>=datum.o","value":"#858894"},"value":"#131722"},
"stroke":{"condition":{"test":"datum.c>=datum.o","value":"#4d505c"},"value":"#131722"}
}},
{"data":{"values":[{"b":218.95,"p":75.8476}]},
"mark":{"type":"point","filled":true,"opacity":1,"size":4,"fill":"#bdc9d8","stroke":"#2068ae","strokeWidth":2,
"shape":"M-163.5,-68.5 L163.5,-68.5 Q179.5,-68.5 179.5,-52.5 L179.5,51.8 L214,94.5 L164,68.5 L-163.5,68.5 Q-179.5,68.5 -179.5,52.5 L-179.5,-52.5 Q-179.5,-68.5 -163.5,-68.5 Z"}},
{"data":{"values":[{"b":2.91,"p":73.636}]},
"mark":{"type":"point","filled":true,"opacity":1,"size":4,"fill":"#d1d4dc","stroke":null,
"shape":"M-19,-9.5 L-3,-9.5 L-3,9.5 L-11,9.5 L-11,-1.5 L-19,-1.5 Z M-1.5,-5.5 A4,4 0 1 1 6.5,-5.5 A4,4 0 1 1 -1.5,-5.5 Z M10,-9.5 L19,-9.5 L11,9.5 L1,9.5 Z"}},
{"data":{"name":"boxes"},
"mark":{"type":"rect","cornerRadius":6,"strokeWidth":2.5},
"encoding":{
"x2":{"field":"b2"},"y2":{"field":"p2"},
"fill":{"field":"kind","legend":null,"scale":{"domain":["usd","last","symbol"],"range":["#ffffff","#d1d4dc","#979aa3"]}},
"stroke":{"field":"kind","legend":null,"scale":{"domain":["usd","last","symbol"],"range":["#ffffff","#131722","#979aa3"]}}
}},
{"data":{"name":"labelsLeft"},
"mark":{"type":"text","font":"Inter","align":"left","baseline":"middle"},
"encoding":{
"text":{"field":"label"},
"size":{"field":"kind","legend":null,"scale":{"type":"ordinal","domain":["header","legend","footer","note","levelText","timer"],"range":[23.8,24,25,31.3,23,28.5]}},
"color":{"field":"kind","legend":null,"scale":{"domain":["header","legend","footer","note","levelText","timer"],"range":["#d1d4dc","#131722","#d1d4dc","#131722","#cc0000","#3a3d47"]}}
}},
{"data":{"name":"labelsRight"},
"mark":{"type":"text","font":"Inter","align":"right","baseline":"middle","fontSize":28.5,"color":"#131722"},
"encoding":{"text":{"field":"label"}}},
{"data":{"name":"labelsCenter"},
"mark":{"type":"text","font":"Inter","align":"center","baseline":"middle","fontSize":27.5,"color":"#131722"},
"encoding":{"text":{"field":"label"}}}
]
}
